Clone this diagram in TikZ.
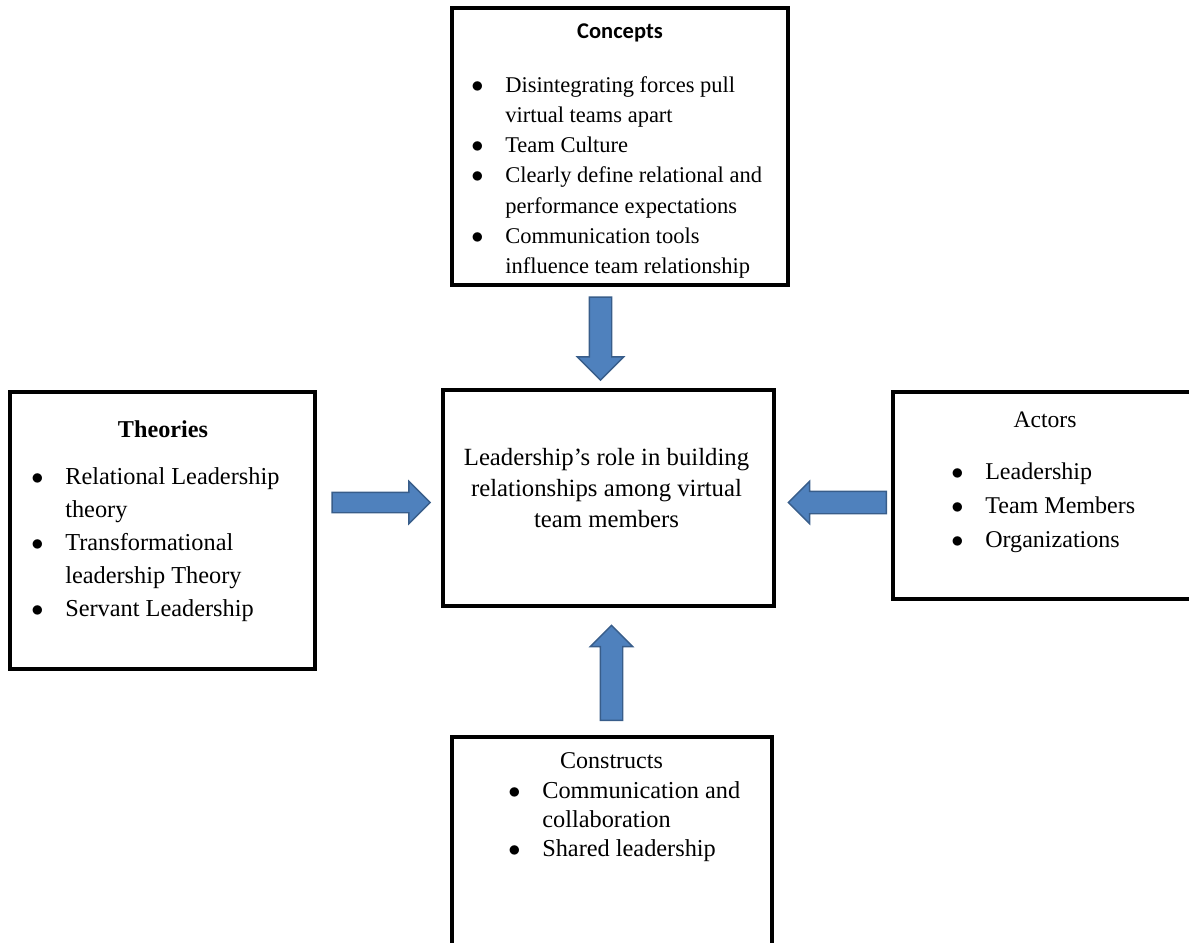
\documentclass[tikz,border=0pt]{standalone}
\usepackage{fontspec}
\setmainfont{Liberation Serif}
\newfontfamily\calibri{Carlito}
\usetikzlibrary{shapes.arrows}
\definecolor{arrowfill}{HTML}{4F81BD}
\definecolor{arrowline}{HTML}{385D8A}
\begin{document}
\begin{tikzpicture}[x=0.025cm, y=-0.025cm]
	\tikzstyle{Box} = [rectangle, draw=black, line width=2.4pt, inner sep=0pt]
	\tikzstyle{Title} = [inner sep=0pt, anchor=north]
	\tikzstyle{List} = [inner sep=0pt, anchor=north west, align=left]
	\tikzstyle{BlockArrow} = [single arrow, draw=arrowline, fill=arrowfill, line width=1pt, inner xsep=0pt, single arrow tip angle=90]

	\useasboundingbox (0,0) rectangle (1189,942);

	% boxes
	\node (concepts) [Box, minimum width=8.4cm, minimum height=6.925cm] at (620,146.5) {};
	\node (center) [Box, minimum width=8.275cm, minimum height=5.4cm] at (608.5,498) {};
	\node (theories) [Box, minimum width=7.625cm, minimum height=6.925cm] at (162.5,530.5) {};
	\node (actors) [Box, minimum width=7.55cm, minimum height=5.175cm] at (1044,495.5) {};
	\node (constructs) [Box, minimum width=8cm, minimum height=5.575cm] at (612,848.5) {};

	% titles
	\node (conceptsT) [Title, font=\calibri\bfseries\fontsize{16}{19}\selectfont] at (620,23) {Concepts};
	\node (theoriesT) [Title, font=\bfseries\fontsize{17.2}{21}\selectfont] at (163,420) {Theories};
	\node (actorsT) [Title, font=\fontsize{16.8}{21}\selectfont] at (1045,412) {Actors};
	\node (constructsT) [Title, font=\fontsize{17.1}{21}\selectfont] at (611.5,752) {Constructs};

	% lists
	\node (conceptsL) [List, font=\fontsize{16}{21.48}\selectfont] at (471,70.9) {%
		\begin{tabular}{@{}p{0.85cm}@{}l@{}}
		$\bullet$ & Disintegrating forces pull\\
		 & virtual teams apart\\
		$\bullet$ & Team Culture\\
		$\bullet$ & Clearly define relational and\\
		 & performance expectations\\
		$\bullet$ & Communication tools\\
		 & influence team relationship
		\end{tabular}};
	\node (theoriesL) [List, font=\fontsize{17.3}{23.47}\selectfont] at (31,460.9) {%
		\begin{tabular}{@{}p{0.85cm}@{}l@{}}
		$\bullet$ & Relational Leadership\\
		 & theory\\
		$\bullet$ & Transformational\\
		 & leadership Theory\\
		$\bullet$ & Servant Leadership
		\end{tabular}};
	\node (actorsL) [List, font=\fontsize{17.1}{24.18}\selectfont] at (951,455.2) {%
		\begin{tabular}{@{}p{0.85cm}@{}l@{}}
		$\bullet$ & Leadership\\
		$\bullet$ & Team Members\\
		$\bullet$ & Organizations
		\end{tabular}};
	\node (constructsL) [List, font=\fontsize{17.3}{20.63}\selectfont] at (508,777.7) {%
		\begin{tabular}{@{}p{0.85cm}@{}l@{}}
		$\bullet$ & Communication and\\
		 & collaboration\\
		$\bullet$ & Shared leadership
		\end{tabular}};
	\node (centerT) [Title, font=\fontsize{17.6}{22.05}\selectfont] at (606.5,443.3) {%
		\begin{tabular}{@{}c@{}}
		Leadership’s role in building\\
		relationships among virtual\\
		team members
		\end{tabular}};

	% block arrows
	\node (down) [BlockArrow, inner ysep=0.2625cm, minimum height=2.075cm, minimum width=1.125cm, single arrow head extend=0.3cm, rotate=-90] at (600.5,333) {};
	\node (right) [BlockArrow, inner ysep=0.2375cm, minimum height=2.45cm, minimum width=1.025cm, single arrow head extend=0.275cm] at (376,502.5) {};
	\node (left) [BlockArrow, inner ysep=0.2625cm, minimum height=2.45cm, minimum width=1.025cm, single arrow head extend=0.25cm, rotate=180] at (843,502.5) {};
	\node (up) [BlockArrow, inner ysep=0.2625cm, minimum height=2.375cm, minimum width=1.025cm, single arrow head extend=0.25cm, rotate=90] at (611.5,678.5) {};
\end{tikzpicture}
\end{document}
